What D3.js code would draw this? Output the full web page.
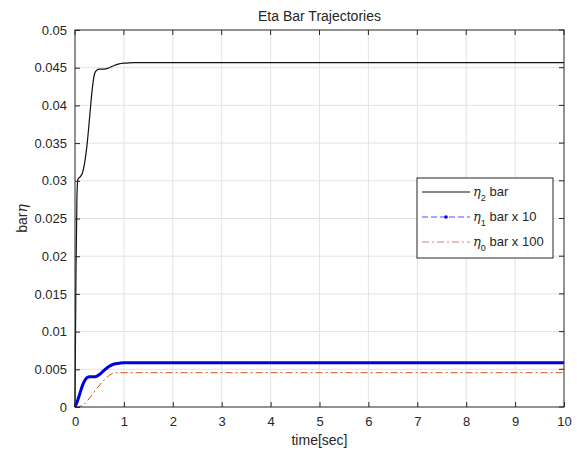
<!DOCTYPE html>
<html>
<head>
<meta charset="utf-8">
<script src="https://cdn.jsdelivr.net/npm/d3@7"></script>
<style>
  body { margin: 0; background: #fff; }
  svg text { font-family: "Liberation Sans", Arial, sans-serif; fill: #262626; }
</style>
</head>
<body>
<svg width="577" height="456"></svg>
<script>
// values
var eta2T = [0, 0.02, 0.04, 0.06, 0.1, 0.15, 0.2, 0.25, 0.3, 0.35, 0.4, 0.45, 0.5, 0.6, 0.7, 0.8, 0.9, 1.0, 1.1, 1.2, 1.5, 10];
var eta2V = [0, 0.018, 0.028, 0.0302, 0.0305, 0.031, 0.0325, 0.035, 0.0385, 0.042, 0.0442, 0.0447, 0.0448, 0.0448, 0.045, 0.0453, 0.0455, 0.0456, 0.04565, 0.04566, 0.04566, 0.04566];

var eta1T = [0, 0.05, 0.1, 0.15, 0.2, 0.25, 0.3, 0.4, 0.45, 0.5, 0.6, 0.7, 0.8, 0.9, 1.0, 1.2, 10];
var eta1V = [0, 0.0008, 0.0018, 0.0028, 0.0035, 0.0039, 0.0040, 0.0040, 0.0041, 0.0043, 0.0049, 0.0054, 0.0057, 0.0058, 0.00588, 0.00588, 0.00588];

var eta0T = [0, 0.15, 0.3, 0.45, 0.6, 0.75, 0.85, 10];
var eta0V = [0, 0.0002, 0.0012, 0.0025, 0.0036, 0.0044, 0.00455, 0.00455];

var xTicks = [0, 1, 2, 3, 4, 5, 6, 7, 8, 9, 10];
var yTicks = [0, 0.005, 0.01, 0.015, 0.02, 0.025, 0.03, 0.035, 0.04, 0.045, 0.05];
var legendLabels = [["2", " bar"], ["1", " bar x 10"], ["0", " bar x 100"]];

var svg = d3.select("svg");
var L = 75, R = 564, T = 30, B = 407;

var x = d3.scaleLinear().domain([0, 10]).range([L, R]);
var y = d3.scaleLinear().domain([0, 0.05]).range([B, T]);

// grid
svg.append("g").selectAll("line").data(xTicks.slice(1, -1)).join("line")
  .attr("x1", d => x(d)).attr("x2", d => x(d)).attr("y1", T).attr("y2", B)
  .attr("stroke", "#e3e3e3").attr("stroke-width", 1);
svg.append("g").selectAll("line").data(yTicks.slice(1, -1)).join("line")
  .attr("y1", d => y(d)).attr("y2", d => y(d)).attr("x1", L).attr("x2", R)
  .attr("stroke", "#e3e3e3").attr("stroke-width", 1);

var line = d3.line().x(d => x(d[0])).y(d => y(d[1])).curve(d3.curveMonotoneX);

svg.append("path").datum(d3.zip(eta0T, eta0V)).attr("d", line)
  .attr("fill", "none").attr("stroke", "#d95319").attr("stroke-width", 1)
  .attr("stroke-dasharray", "7,3,2,3");
svg.append("path").datum(d3.zip(eta1T, eta1V)).attr("d", line)
  .attr("fill", "none").attr("stroke", "#0000e6").attr("stroke-width", 3);
svg.append("path").datum(d3.zip(eta2T, eta2V)).attr("d", line)
  .attr("fill", "none").attr("stroke", "#111").attr("stroke-width", 1.2);

// axes
var xAxis = d3.axisBottom(x).tickValues(xTicks).tickSize(-5).tickPadding(10).tickFormat(d3.format("d"));
var yAxis = d3.axisLeft(y).tickValues(yTicks).tickSize(-5).tickPadding(8).tickFormat(d => d === 0 ? "0" : String(+d.toFixed(3)));

var gx = svg.append("g").attr("transform", "translate(0," + B + ")").call(xAxis);
var gy = svg.append("g").attr("transform", "translate(" + L + ",0)").call(yAxis);
[gx, gy].forEach(function (g) {
  g.select(".domain").remove();
  g.selectAll("line").attr("stroke", "#262626");
  g.selectAll("text").attr("font-size", 13).attr("fill", "#262626")
    .style("font-family", "Liberation Sans, Arial, sans-serif");
});
// ticks on top / right
svg.append("g").selectAll("line").data(xTicks).join("line")
  .attr("x1", d => x(d)).attr("x2", d => x(d)).attr("y1", T).attr("y2", T + 5).attr("stroke", "#262626");
svg.append("g").selectAll("line").data(yTicks).join("line")
  .attr("y1", d => y(d)).attr("y2", d => y(d)).attr("x1", R).attr("x2", R - 5).attr("stroke", "#262626");

svg.append("rect").attr("x", L).attr("y", T).attr("width", R - L).attr("height", B - T)
  .attr("fill", "none").attr("stroke", "#262626").attr("stroke-width", 1);

// labels
svg.append("text").attr("x", (L + R) / 2).attr("y", 21).attr("text-anchor", "middle")
  .attr("font-size", 14).text("Eta Bar Trajectories");
svg.append("text").attr("x", (L + R) / 2).attr("y", 445).attr("text-anchor", "middle")
  .attr("font-size", 14).text("time[sec]");
var yl = svg.append("text").attr("transform", "translate(27," + ((T + B) / 2) + ") rotate(-90)")
  .attr("text-anchor", "middle").attr("font-size", 14);
yl.append("tspan").text("bar");
yl.append("tspan").attr("font-style", "italic").style("font-family", "DejaVu Serif, serif").text("η");

// legend
var lg = svg.append("g").attr("transform", "translate(417,178)");
lg.append("rect").attr("width", 136).attr("height", 80).attr("fill", "#fff").attr("stroke", "#262626");
var styles = [
  { c: "#111", dash: null },
  { c: "#4d4dff", dash: "6,3" },
  { c: "#e08080", dash: "7,3,2,3" }
];
legendLabels.forEach(function (lab, i) {
  var yy = 14 + i * 25;
  lg.append("line").attr("x1", 5).attr("x2", 53).attr("y1", yy).attr("y2", yy)
    .attr("stroke", styles[i].c).attr("stroke-width", 1).attr("stroke-dasharray", styles[i].dash);
  if (i === 1) lg.append("circle").attr("cx", 29).attr("cy", yy).attr("r", 1.8).attr("fill", "#0000e6");
  var t = lg.append("text").attr("x", 56).attr("y", yy + 4).attr("font-size", 13);
  t.append("tspan").attr("font-style", "italic").style("font-family", "DejaVu Serif, serif").text("η");
  t.append("tspan").attr("font-size", 9).attr("dy", 5).text(lab[0]);
  t.append("tspan").attr("dy", -5).text(lab[1]);
});
</script>
</body>
</html>
